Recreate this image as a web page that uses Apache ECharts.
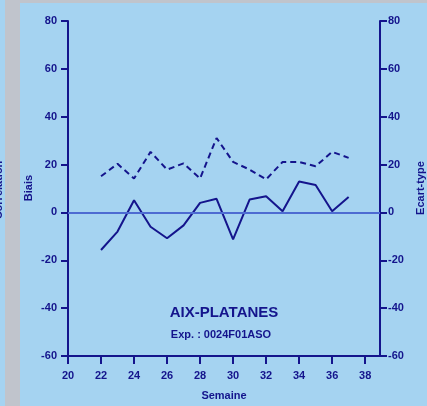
<!DOCTYPE html>
<html><head><meta charset="utf-8">
<script src="https://cdn.jsdelivr.net/npm/echarts@6/dist/echarts.min.js"></script>
<style>html,body{margin:0;padding:0;background:#a5d3f1;}#c{width:427px;height:406px;}</style>
</head><body><div id="c"></div>
<script>
const weeks = [22,23,24,25,26,27,28,29,30,31,32,33,34,35,36,37];
const biais = [-15.7,-8,5.1,-6,-10.8,-5.4,4.0,5.7,-11.3,5.4,6.8,0.5,12.9,11.5,0.5,6.4];
const ecartType = [15.1,20.3,14.2,25.3,17.9,20.5,14.2,31.1,21.1,17.9,13.8,21.1,21.1,19.3,25.3,22.8];
const xTicks = [20,22,24,26,28,30,32,34,36,38];
const yTicks = [-60,-40,-20,0,20,40,60,80];
const title = 'AIX-PLATANES';
const subtitle = 'Exp. : 0024F01ASO';

const navy = '#14148c';
const font = 'Liberation Sans, Arial, sans-serif';
const chart = echarts.init(document.getElementById('c'));
function yAxisOf(pos, margin) {
  return {
    type: 'value', position: pos, min: -60, max: 80, interval: 20,
    axisLine: {show: true, onZero: false, lineStyle: {color: navy, width: 2}},
    axisTick: {show: true, length: 7, lineStyle: {color: navy, width: 2}},
    splitLine: {show: false},
    axisLabel: {color: navy, fontFamily: font, fontWeight: 'bold', fontSize: 11, margin: margin}
  };
}
chart.setOption({
  backgroundColor: '#a5d3f1',
  animation: false,
  grid: {left: 68, right: 47, top: 21, bottom: 49},
  xAxis: {
    type: 'value', min: 20, max: 38.9,
    axisLine: {show: true, onZero: false, lineStyle: {color: navy, width: 2}},
    axisTick: {show: true, length: 8, customValues: xTicks, lineStyle: {color: navy, width: 2}},
    splitLine: {show: false},
    axisLabel: {customValues: xTicks, color: navy, fontFamily: font, fontWeight: 'bold', fontSize: 11, margin: 14},
    name: 'Semaine', nameLocation: 'middle', nameGap: 34,
    nameTextStyle: {color: navy, fontFamily: font, fontWeight: 'bold', fontSize: 11}
  },
  yAxis: [yAxisOf('left', 11), yAxisOf('right', 8)],
  series: [
    {
      type: 'line', name: 'Biais', yAxisIndex: 0, symbol: 'none',
      data: weeks.map((w, i) => [w, biais[i]]),
      lineStyle: {color: navy, width: 2},
      markLine: {
        silent: true, symbol: 'none', label: {show: false},
        lineStyle: {color: '#4d6bd2', width: 2, type: 'solid'},
        data: [{yAxis: 0}]
      },
      z: 3
    },
    {
      type: 'line', name: 'Ecart-type', yAxisIndex: 1, symbol: 'none',
      data: weeks.map((w, i) => [w, ecartType[i]]),
      lineStyle: {color: navy, width: 2, type: [6, 4]},
      z: 3
    }
  ],
  graphic: [
    {type: 'rect', shape: {x: 5, y: 0, width: 15, height: 406}, style: {fill: '#c0c4cc'}, z: -1},
    {type: 'rect', shape: {x: 20, y: 0, width: 407, height: 3}, style: {fill: '#c0c4cc'}, z: -1},
    {type: 'text', x: -1, y: 190, rotation: Math.PI / 2,
      style: {text: 'Corrélation', fill: navy, font: 'bold 11px ' + font, align: 'center', verticalAlign: 'middle'}},
    {type: 'text', x: 29, y: 188, rotation: Math.PI / 2,
      style: {text: 'Biais', fill: navy, font: 'bold 11px ' + font, align: 'center', verticalAlign: 'middle'}},
    {type: 'text', x: 421, y: 188, rotation: Math.PI / 2,
      style: {text: 'Ecart-type', fill: navy, font: 'bold 11px ' + font, align: 'center', verticalAlign: 'middle'}},
    {type: 'text', x: 224, y: 313,
      style: {text: title, fill: navy, font: 'bold 15px ' + font, align: 'center', verticalAlign: 'middle'}},
    {type: 'text', x: 221, y: 335,
      style: {text: subtitle, fill: navy, font: 'bold 11px ' + font, align: 'center', verticalAlign: 'middle'}}
  ]
});
</script></body></html>
